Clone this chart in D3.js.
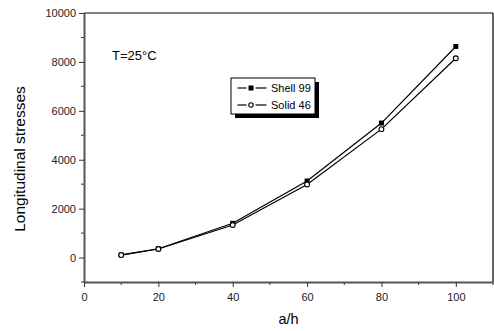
<!DOCTYPE html>
<html><head><meta charset="utf-8">
<script src="https://cdn.jsdelivr.net/npm/d3@7"></script>
<style>body{margin:0;background:#fff}svg{display:block}text{font-family:"Liberation Sans",Arial,sans-serif}</style>
</head><body>
<svg id="c" width="494" height="331"></svg>
<script>
const xValues = [10, 20, 40, 60, 80, 100];
const shell99 = [110, 360, 1400, 3130, 5500, 8630];
const solid46 = [100, 350, 1330, 2990, 5250, 8150];
const seriesNames = ["Shell 99", "Solid 46"];
const xTicks = [0, 20, 40, 60, 80, 100];
const yTicks = [0, 2000, 4000, 6000, 8000, 10000];

const svg = d3.select("#c");
const L = 84, R = 493, T = 13, B = 282;
const x = d3.scaleLinear().domain([0, 110]).range([L, R]);
const y = d3.scaleLinear().domain([-1000, 10000]).range([B, T]);

// frame top/right
svg.append("line").attr("x1", L).attr("x2", R).attr("y1", T).attr("y2", T).attr("stroke", "#000").attr("stroke-width", 1.2);
svg.append("line").attr("x1", R).attr("x2", R).attr("y1", T).attr("y2", B).attr("stroke", "#000").attr("stroke-width", 1.2);

// minor ticks
const xMinor = d3.range(10, 111, 20);
const yMinor = d3.range(-1000, 10000, 2000);
svg.append("g").selectAll("line").data(xMinor).join("line")
  .attr("x1", d => x(d)).attr("x2", d => x(d)).attr("y1", B).attr("y2", B + 3)
  .attr("stroke", "#333").attr("stroke-width", 1);
svg.append("g").selectAll("line").data(yMinor).join("line")
  .attr("y1", d => y(d)).attr("y2", d => y(d)).attr("x1", L).attr("x2", L - 3)
  .attr("stroke", "#333").attr("stroke-width", 1);

const fmt = d3.format("d");
const xAxis = svg.append("g").attr("transform", `translate(0,${B})`)
  .call(d3.axisBottom(x).tickValues(xTicks).tickFormat(fmt).tickSize(5).tickPadding(6).tickSizeOuter(0));
const yAxis = svg.append("g").attr("transform", `translate(${L},0)`)
  .call(d3.axisLeft(y).tickValues(yTicks).tickFormat(fmt).tickSize(5).tickPadding(3).tickSizeOuter(0));
[xAxis, yAxis].forEach(g => {
  g.select(".domain").attr("stroke", "#555").attr("stroke-width", 2);
  g.selectAll(".tick line").attr("stroke", "#333");
  g.selectAll(".tick text").attr("fill", "#222").style("font-size", "11px").style("font-family", '"Liberation Sans",Arial,sans-serif');
});

const line = d3.line().x(d => x(d[0])).y(d => y(d[1]));
const sData = xValues.map((v, i) => [v, shell99[i]]);
const cData = xValues.map((v, i) => [v, solid46[i]]);
svg.append("path").datum(sData).attr("d", line).attr("fill", "none").attr("stroke", "#000").attr("stroke-width", 1.2);
svg.append("path").datum(cData).attr("d", line).attr("fill", "none").attr("stroke", "#000").attr("stroke-width", 1.2);

svg.append("g").selectAll("rect").data(sData).join("rect")
  .attr("x", d => x(d[0]) - 2.5).attr("y", d => y(d[1]) - 2.5).attr("width", 5).attr("height", 5).attr("fill", "#000");
svg.append("g").selectAll("circle").data(cData).join("circle")
  .attr("cx", d => x(d[0])).attr("cy", d => y(d[1])).attr("r", 2.4).attr("fill", "#fff").attr("stroke", "#000").attr("stroke-width", 1.1);

// labels
svg.append("text").attr("x", 112).attr("y", 60).style("font-size", "13px").attr("fill", "#000").text("T=25°C");
svg.append("text").attr("x", 288.5).attr("y", 324).attr("text-anchor", "middle").style("font-size", "14.5px").attr("fill", "#000").text("a/h");
svg.append("text").attr("transform", "translate(25,159) rotate(-90)").attr("text-anchor", "middle").style("font-size", "15.5px").attr("fill", "#000").text("Longitudinal stresses");

// legend
const lg = svg.append("g");
lg.append("rect").attr("x", 235).attr("y", 82).attr("width", 84).attr("height", 36).attr("fill", "#000");
lg.append("rect").attr("x", 231).attr("y", 78).attr("width", 84).attr("height", 36).attr("fill", "#fff").attr("stroke", "#000").attr("stroke-width", 1);
const rows = [88, 105];
rows.forEach((ry, i) => {
  lg.append("line").attr("x1", 237.5).attr("x2", 246.5).attr("y1", ry).attr("y2", ry).attr("stroke", "#000").attr("stroke-width", 1.2);
  lg.append("line").attr("x1", 255.5).attr("x2", 266.5).attr("y1", ry).attr("y2", ry).attr("stroke", "#000").attr("stroke-width", 1.2);
  if (i === 0) lg.append("rect").attr("x", 248.5).attr("y", ry - 2.5).attr("width", 5).attr("height", 5).attr("fill", "#000");
  else lg.append("circle").attr("cx", 251).attr("cy", ry).attr("r", 2.2).attr("fill", "#fff").attr("stroke", "#000").attr("stroke-width", 1.1);
  lg.append("text").attr("x", 271).attr("y", ry + 4).style("font-size", "11px").attr("fill", "#000").text(seriesNames[i]);
});
</script>
</body></html>
